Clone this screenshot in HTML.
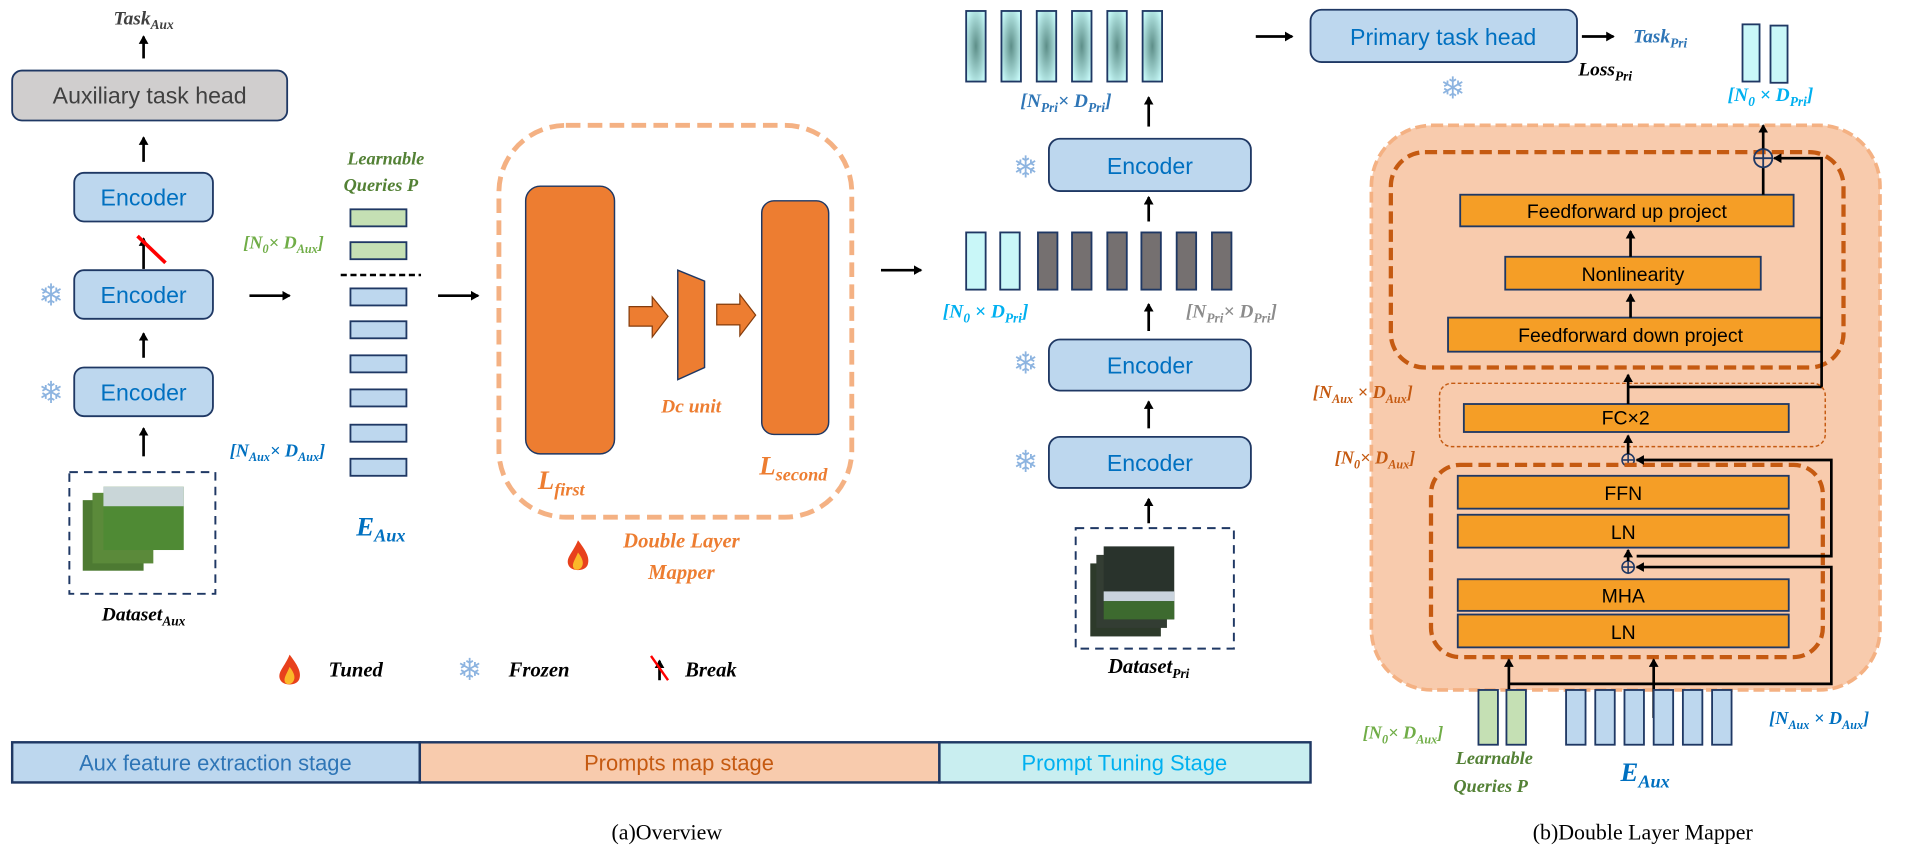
<!DOCTYPE html>
<html><head><meta charset="utf-8"><style>
html,body{margin:0;padding:0;background:#fff;}
svg{display:block;}
text{font-family:"Liberation Sans",sans-serif;}
.m{font-family:"Liberation Serif",serif;font-style:italic;font-weight:bold;}
.enc{fill:#bdd7ee;stroke:#1f3864;stroke-width:1.5;}
.et{fill:#0070c0;font-size:19px;text-anchor:middle;}
.ob{fill:#f59e26;stroke:#1f3864;stroke-width:1.5;}
.ot{fill:#000;font-size:16px;text-anchor:middle;}
.ln{stroke:#000;stroke-width:2.2;fill:none;}
.snow{fill:#8db4e0;font-size:25px;text-anchor:middle;font-family:"DejaVu Sans",sans-serif;}
.cap{font-family:"Liberation Serif",serif;font-size:18px;text-anchor:middle;fill:#000;}
</style></head><body>
<svg width="1908" height="850" viewBox="0 0 1568 698.5" xmlns="http://www.w3.org/2000/svg">
<defs>
<marker id="a" markerWidth="8" markerHeight="8" refX="6" refY="4" orient="auto" markerUnits="userSpaceOnUse"><path d="M0,0 L7,4 L0,8 z" fill="#000"/></marker>
<radialGradient id="tg" cx="0.5" cy="0.5" r="0.6"><stop offset="0" stop-color="#5d8e88"/><stop offset="1" stop-color="#c4f7f6"/></radialGradient>
<g id="flame"><path d="M0,-14 C6,-6 10,0 8,6 C6,12 -6,12 -8,6 C-10,0 -4,-4 0,-14z" fill="#e8411c"/><path d="M0,-4 C4,1 5,5 3,8 C1,11 -3,11 -4,8 C-5,5 -2,1 0,-4z" fill="#fbb829"/></g>
</defs>

<!-- LEFT COLUMN -->
<text x="118" y="20" class="m" font-size="16" text-anchor="middle" fill="#404040">Task<tspan font-size="11" dy="4">Aux</tspan></text>
<line x1="118" y1="48" x2="118" y2="30" class="ln" marker-end="url(#a)"/>
<rect x="10" y="58" width="226" height="41" rx="8" fill="#d0cece" stroke="#1f3864" stroke-width="1.5"/>
<text x="123" y="85" font-size="19" text-anchor="middle" fill="#404040">Auxiliary task head</text>
<line x1="118" y1="133" x2="118" y2="113" class="ln" marker-end="url(#a)"/>
<rect x="61" y="142" width="114" height="40" rx="8" class="enc"/><text x="118" y="169" class="et">Encoder</text>
<line x1="118" y1="221" x2="118" y2="196" class="ln" marker-end="url(#a)"/>
<line x1="113" y1="194" x2="136" y2="216" stroke="#ff0000" stroke-width="3"/>
<rect x="61" y="222" width="114" height="40" rx="8" class="enc"/><text x="118" y="249" class="et">Encoder</text>
<text x="42" y="251" class="snow">❄</text>
<line x1="118" y1="294" x2="118" y2="274" class="ln" marker-end="url(#a)"/>
<rect x="61" y="302" width="114" height="40" rx="8" class="enc"/><text x="118" y="329" class="et">Encoder</text>
<text x="42" y="331" class="snow">❄</text>
<line x1="118" y1="375" x2="118" y2="352" class="ln" marker-end="url(#a)"/>
<rect x="68" y="388" width="148" height="0" fill="none"/>
<rect x="68" y="513" width="0" height="0"/>
<rect x="69" y="390" width="146" height="0"/>
<rect x="69" y="390" width="0" height="0"/>
<rect x="69" y="390" width="0" height="0"/>
<rect x="69" y="390" width="0" height="0"/>
<rect x="57" y="388" width="120" height="100" fill="none" stroke="#1f3864" stroke-width="1.6" stroke-dasharray="7,5"/>
<rect x="68" y="411" width="50" height="58" fill="#4d7a32"/>
<rect x="76" y="405" width="50" height="58" fill="#5b8a3a"/>
<rect x="85" y="400" width="66" height="52" fill="#4f8a34"/>
<rect x="85" y="400" width="66" height="16" fill="#c9d6d8"/>
<text x="118" y="510" class="m" font-size="16" text-anchor="middle" fill="#000">Dataset<tspan font-size="11" dy="4">Aux</tspan></text>

<!-- tokens -->
<text x="317" y="135" class="m" font-size="15" text-anchor="middle" fill="#538135">Learnable</text>
<text x="313" y="157" class="m" font-size="15" text-anchor="middle" fill="#538135">Queries P</text>
<rect x="288" y="172" width="46" height="14" fill="#c5e0b4" stroke="#1f3864" stroke-width="1.5"/>
<rect x="288" y="199" width="46" height="14" fill="#c5e0b4" stroke="#1f3864" stroke-width="1.5"/>
<text x="233" y="204" class="m" font-size="15" text-anchor="middle" fill="#70ad47" font-weight="normal">[N<tspan font-size="10" dy="4">0</tspan><tspan dy="-4">× D</tspan><tspan font-size="10" dy="4">Aux</tspan><tspan dy="-4">]</tspan></text>
<line x1="280" y1="226" x2="346" y2="226" stroke="#000" stroke-width="2" stroke-dasharray="5,3"/>
<g fill="#bdd7ee" stroke="#1f3864" stroke-width="1.5">
<rect x="288" y="237" width="46" height="14"/><rect x="288" y="264" width="46" height="14"/>
<rect x="288" y="292" width="46" height="14"/><rect x="288" y="320" width="46" height="14"/>
<rect x="288" y="349" width="46" height="14"/><rect x="288" y="377" width="46" height="14"/>
</g>
<text x="228" y="375" class="m" font-size="15" text-anchor="middle" fill="#0070c0">[N<tspan font-size="10" dy="4">Aux</tspan><tspan dy="-4">× D</tspan><tspan font-size="10" dy="4">Aux</tspan><tspan dy="-4">]</tspan></text>
<text x="313" y="440" class="m" font-size="22" text-anchor="middle" fill="#0070c0">E<tspan font-size="15" dy="5">Aux</tspan></text>
<line x1="205" y1="243" x2="238" y2="243" class="ln" marker-end="url(#a)"/>
<line x1="360" y1="243" x2="393" y2="243" class="ln" marker-end="url(#a)"/>

<!-- MAPPER -->
<rect x="410" y="103" width="290" height="322" rx="55" fill="none" stroke="#f4b183" stroke-width="4" stroke-dasharray="12,6"/>
<rect x="432" y="153" width="73" height="220" rx="12" fill="#ed7d31" stroke="#1f3864" stroke-width="1.2"/>
<rect x="626" y="165" width="55" height="192" rx="10" fill="#ed7d31" stroke="#1f3864" stroke-width="1.2"/>
<path d="M557,222 L579,231 L579,302 L557,312 z" fill="#ed7d31" stroke="#1f3864" stroke-width="1.2"/>
<path d="M517,252 L536,252 L536,244 L549,260 L536,277 L536,268 L517,268 z" fill="#ed7d31" stroke="#843c0c" stroke-width="1"/>
<path d="M589,250 L608,250 L608,242 L621,259 L608,276 L608,267 L589,267 z" fill="#ed7d31" stroke="#843c0c" stroke-width="1"/>
<text x="568" y="339" class="m" font-size="16" text-anchor="middle" fill="#ed7d31">Dc unit</text>
<text x="442" y="402" class="m" font-size="22" fill="#ed7d31">L<tspan font-size="15" dy="5">first</tspan></text>
<text x="624" y="390" class="m" font-size="22" fill="#ed7d31">L<tspan font-size="15" dy="5">second</tspan></text>
<use href="#flame" x="475" y="458"/>
<text x="560" y="450" class="m" font-size="17" text-anchor="middle" fill="#ed7d31">Double Layer</text>
<text x="560" y="476" class="m" font-size="17" text-anchor="middle" fill="#ed7d31">Mapper</text>
<line x1="724" y1="222" x2="757" y2="222" class="ln" marker-end="url(#a)"/>

<!-- MIDDLE COLUMN -->
<g fill="url(#tg)" stroke="#1f3864" stroke-width="1.5">
<rect x="794" y="9" width="16" height="58"/><rect x="823" y="9" width="16" height="58"/>
<rect x="852" y="9" width="16" height="58"/><rect x="881" y="9" width="16" height="58"/>
<rect x="910" y="9" width="16" height="58"/><rect x="939" y="9" width="16" height="58"/>
</g>
<line x1="1032" y1="30" x2="1062" y2="30" class="ln" marker-end="url(#a)"/>
<rect x="1077" y="8" width="219" height="43" rx="9" class="enc"/>
<text x="1186" y="37" class="et" font-size="20">Primary task head</text>
<line x1="1300" y1="30" x2="1326" y2="30" class="ln" marker-end="url(#a)"/>
<text x="1342" y="35" class="m" font-size="16" fill="#2e75b6">Task<tspan font-size="11" dy="4">Pri</tspan></text>
<text x="1297" y="62" class="m" font-size="16" fill="#000">Loss<tspan font-size="11" dy="4">Pri</tspan></text>
<text x="1194" y="81" class="snow">❄</text>
<g fill="#c9f7f8" stroke="#1f3864" stroke-width="1.5">
<rect x="1432" y="20" width="14" height="47"/><rect x="1455" y="21" width="14" height="47"/>
</g>
<text x="1455" y="83" class="m" font-size="16" text-anchor="middle" fill="#00b0f0">[N<tspan font-size="11" dy="4">0</tspan><tspan dy="-4"> × D</tspan><tspan font-size="11" dy="4">Pri</tspan><tspan dy="-4">]</tspan></text>
<text x="876" y="88" class="m" font-size="16" text-anchor="middle" fill="#2e75b6">[N<tspan font-size="11" dy="4">Pri</tspan><tspan dy="-4">× D</tspan><tspan font-size="11" dy="4">Pri</tspan><tspan dy="-4">]</tspan></text>
<line x1="944" y1="104" x2="944" y2="80" class="ln" marker-end="url(#a)"/>
<rect x="862" y="114" width="166" height="43" rx="9" class="enc"/><text x="945" y="143" class="et">Encoder</text>
<text x="843" y="146" class="snow">❄</text>
<line x1="944" y1="182" x2="944" y2="162" class="ln" marker-end="url(#a)"/>
<g stroke="#1f3864" stroke-width="1.5">
<rect x="794" y="191" width="16" height="47" fill="#c9f7f8"/><rect x="822" y="191" width="16" height="47" fill="#c9f7f8"/>
<rect x="853" y="191" width="16" height="47" fill="#757070"/><rect x="881" y="191" width="16" height="47" fill="#757070"/>
<rect x="910" y="191" width="16" height="47" fill="#757070"/><rect x="938" y="191" width="16" height="47" fill="#757070"/>
<rect x="967" y="191" width="16" height="47" fill="#757070"/><rect x="996" y="191" width="16" height="47" fill="#757070"/>
</g>
<text x="810" y="261" class="m" font-size="16" text-anchor="middle" fill="#00b0f0">[N<tspan font-size="11" dy="4">0</tspan><tspan dy="-4"> × D</tspan><tspan font-size="11" dy="4">Pri</tspan><tspan dy="-4">]</tspan></text>
<text x="1012" y="261" class="m" font-size="16" text-anchor="middle" fill="#8c8c8c" font-weight="normal">[N<tspan font-size="11" dy="4">Pri</tspan><tspan dy="-4">× D</tspan><tspan font-size="11" dy="4">Pri</tspan><tspan dy="-4">]</tspan></text>
<line x1="944" y1="272" x2="944" y2="250" class="ln" marker-end="url(#a)"/>
<rect x="862" y="279" width="166" height="42" rx="9" class="enc"/><text x="945" y="307" class="et">Encoder</text>
<text x="843" y="307" class="snow">❄</text>
<line x1="944" y1="352" x2="944" y2="330" class="ln" marker-end="url(#a)"/>
<rect x="862" y="359" width="166" height="42" rx="9" class="enc"/><text x="945" y="387" class="et">Encoder</text>
<text x="843" y="388" class="snow">❄</text>
<line x1="944" y1="430" x2="944" y2="410" class="ln" marker-end="url(#a)"/>
<rect x="884" y="434" width="130" height="99" fill="none" stroke="#1f3864" stroke-width="1.6" stroke-dasharray="7,5"/>
<rect x="896" y="463" width="58" height="60" fill="#2d3a2a"/>
<rect x="901" y="456" width="58" height="60" fill="#333d33"/>
<rect x="907" y="449" width="58" height="60" fill="#29332c"/>
<rect x="907" y="486" width="58" height="8" fill="#c9d3dd"/>
<rect x="907" y="494" width="58" height="15" fill="#3d6a2f"/>
<text x="944" y="553" class="m" font-size="17" text-anchor="middle" fill="#000">Dataset<tspan font-size="11" dy="4">Pri</tspan></text>

<!-- legend -->
<use href="#flame" x="238" y="552"/>
<text x="270" y="556" class="m" font-size="17" fill="#000" font-weight="normal">Tuned</text>
<text x="386" y="559" class="snow">❄</text>
<text x="418" y="556" class="m" font-size="17" fill="#000" font-weight="normal">Frozen</text>
<line x1="542" y1="559" x2="542" y2="543" class="ln" stroke-width="1.5" marker-end="url(#a)"/>
<line x1="535" y1="539" x2="549" y2="559" stroke="#ff0000" stroke-width="2"/>
<text x="563" y="556" class="m" font-size="17" fill="#000" font-weight="normal">Break</text>

<!-- stage bar -->
<rect x="10" y="610" width="335" height="33" fill="#bdd7ee" stroke="#1f3864" stroke-width="2"/>
<rect x="345" y="610" width="427" height="33" fill="#f8cbad" stroke="#1f3864" stroke-width="2"/>
<rect x="772" y="610" width="305" height="33" fill="#c9eef0" stroke="#1f3864" stroke-width="2"/>
<text x="177" y="633" font-size="18" text-anchor="middle" fill="#2e75b6">Aux feature extraction stage</text>
<text x="558" y="633" font-size="18" text-anchor="middle" fill="#c55a11">Prompts map stage</text>
<text x="924" y="633" font-size="18" text-anchor="middle" fill="#00b0f0">Prompt Tuning Stage</text>
<text x="548" y="690" class="cap" style="font-family:'Liberation Serif',serif">(a)Overview</text>
<text x="1350" y="690" class="cap" style="font-family:'Liberation Serif',serif">(b)Double Layer Mapper</text>

<!-- RIGHT PANEL -->
<rect x="1127" y="103" width="418" height="464" rx="50" fill="#f8cbad" stroke="#f4b183" stroke-width="3" stroke-dasharray="9,4"/>
<rect x="1143" y="125" width="372" height="177" rx="28" fill="none" stroke="#c55a11" stroke-width="3.5" stroke-dasharray="10,5"/>
<rect x="1200" y="160" width="274" height="26" class="ob"/><text x="1337" y="179" class="ot">Feedforward up project</text>
<rect x="1237" y="211" width="210" height="27" class="ob"/><text x="1342" y="231" class="ot">Nonlinearity</text>
<rect x="1190" y="261" width="307" height="28" class="ob"/><text x="1340" y="281" class="ot">Feedforward down project</text>
<line x1="1340" y1="211" x2="1340" y2="190" class="ln" stroke-width="1.8" marker-end="url(#a)"/>
<line x1="1340" y1="261" x2="1340" y2="242" class="ln" stroke-width="1.8" marker-end="url(#a)"/>
<line x1="1449" y1="160" x2="1449" y2="138" class="ln" stroke-width="1.8"/>
<circle cx="1449" cy="130" r="7.5" fill="none" stroke="#1f3864" stroke-width="1.5"/>
<line x1="1441.5" y1="130" x2="1456.5" y2="130" stroke="#1f3864" stroke-width="1.5"/>
<line x1="1449" y1="122.5" x2="1449" y2="137.5" stroke="#1f3864" stroke-width="1.5"/>
<line x1="1449" y1="122" x2="1449" y2="103" class="ln" stroke-width="1.8" marker-end="url(#a)"/>
<polyline points="1338,318 1497,318 1497,130 1458,130" class="ln" stroke-width="2" marker-end="url(#a)"/>
<text x="1120" y="327" class="m" font-size="15" text-anchor="middle" fill="#c55a11" font-weight="normal">[N<tspan font-size="10" dy="4">Aux</tspan><tspan dy="-4"> × D</tspan><tspan font-size="10" dy="4">Aux</tspan><tspan dy="-4">]</tspan></text>
<rect x="1183" y="315" width="317" height="52" rx="10" fill="none" stroke="#c55a11" stroke-width="1.2" stroke-dasharray="3,2"/>
<rect x="1203" y="332" width="267" height="23" class="ob"/><text x="1336" y="349" class="ot">FC×2</text>
<line x1="1338" y1="332" x2="1338" y2="308" class="ln" stroke-width="1.8" marker-end="url(#a)"/>
<text x="1130" y="381" class="m" font-size="15" text-anchor="middle" fill="#c55a11" font-weight="normal">[N<tspan font-size="10" dy="4">0</tspan><tspan dy="-4">× D</tspan><tspan font-size="10" dy="4">Aux</tspan><tspan dy="-4">]</tspan></text>
<g stroke="#1f3864" stroke-width="1.3" fill="none">
<circle cx="1338" cy="378" r="5"/><line x1="1333" y1="378" x2="1343" y2="378"/><line x1="1338" y1="373" x2="1338" y2="383"/>
<circle cx="1338" cy="466" r="5"/><line x1="1333" y1="466" x2="1343" y2="466"/><line x1="1338" y1="461" x2="1338" y2="471"/>
</g>
<line x1="1338" y1="373" x2="1338" y2="358" class="ln" stroke-width="1.8" marker-end="url(#a)"/>
<rect x="1176" y="382" width="322" height="158" rx="24" fill="none" stroke="#c55a11" stroke-width="3.5" stroke-dasharray="10,5"/>
<rect x="1198" y="391" width="272" height="27" class="ob"/><text x="1334" y="411" class="ot">FFN</text>
<rect x="1198" y="423" width="272" height="27" class="ob"/><text x="1334" y="443" class="ot">LN</text>
<rect x="1198" y="476" width="272" height="26" class="ob"/><text x="1334" y="495" class="ot">MHA</text>
<rect x="1198" y="505" width="272" height="27" class="ob"/><text x="1334" y="525" class="ot">LN</text>
<line x1="1338" y1="461" x2="1338" y2="452" class="ln" stroke-width="1.8" marker-end="url(#a)"/>
<polyline points="1345,457 1505,457 1505,378 1345,378" class="ln" stroke-width="2" marker-end="url(#a)"/>
<polyline points="1240,562 1505,562 1505,466 1345,466" class="ln" stroke-width="2" marker-end="url(#a)"/>
<line x1="1240" y1="590" x2="1240" y2="542" class="ln" stroke-width="1.8" marker-end="url(#a)"/>
<line x1="1359" y1="590" x2="1359" y2="542" class="ln" stroke-width="1.8" marker-end="url(#a)"/>
<g stroke="#1f3864" stroke-width="1.5">
<rect x="1215" y="567" width="16" height="45" fill="#c5e0b4"/><rect x="1238" y="567" width="16" height="45" fill="#c5e0b4"/>
<rect x="1287" y="567" width="16" height="45" fill="#bdd7ee"/><rect x="1311" y="567" width="16" height="45" fill="#bdd7ee"/>
<rect x="1335" y="567" width="16" height="45" fill="#bdd7ee"/><rect x="1359" y="567" width="16" height="45" fill="#bdd7ee"/>
<rect x="1383" y="567" width="16" height="45" fill="#bdd7ee"/><rect x="1407" y="567" width="16" height="45" fill="#bdd7ee"/>
</g>
<text x="1153" y="607" class="m" font-size="15" text-anchor="middle" fill="#70ad47" font-weight="normal">[N<tspan font-size="10" dy="4">0</tspan><tspan dy="-4">× D</tspan><tspan font-size="10" dy="4">Aux</tspan><tspan dy="-4">]</tspan></text>
<text x="1495" y="595" class="m" font-size="15" text-anchor="middle" fill="#0070c0">[N<tspan font-size="10" dy="4">Aux</tspan><tspan dy="-4"> × D</tspan><tspan font-size="10" dy="4">Aux</tspan><tspan dy="-4">]</tspan></text>
<text x="1228" y="628" class="m" font-size="15" text-anchor="middle" fill="#538135">Learnable</text>
<text x="1225" y="651" class="m" font-size="15" text-anchor="middle" fill="#538135">Queries P</text>
<text x="1352" y="642" class="m" font-size="22" text-anchor="middle" fill="#0070c0">E<tspan font-size="15" dy="5">Aux</tspan></text>
</svg>
</body></html>
